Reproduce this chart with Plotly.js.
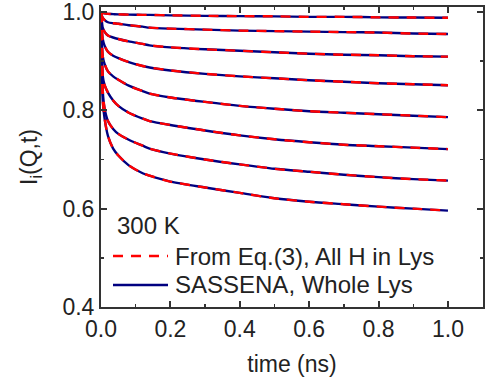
<!DOCTYPE html>
<html>
<head>
<meta charset="utf-8">
<script src="https://cdn.plot.ly/plotly-3.0.1.min.js"></script>
<style>html,body{margin:0;padding:0;background:#fff;}#chart{width:486px;height:385px;}</style>
</head>
<body>
<div id="chart"></div>
<script>
const time = [0, 0.002, 0.005, 0.01, 0.02, 0.035, 0.05, 0.08, 0.12, 0.14, 0.2, 0.3, 0.4, 0.5, 0.6, 0.7, 0.8, 0.9, 1.0];
const curve1 = [1, 0.999, 0.998, 0.997, 0.996, 0.9955, 0.995, 0.9945, 0.994, 0.994, 0.993, 0.992, 0.9915, 0.991, 0.990, 0.990, 0.989, 0.9885, 0.988];
const curve2 = [1, 0.993, 0.988, 0.984, 0.979, 0.977, 0.976, 0.973, 0.970, 0.968, 0.966, 0.964, 0.962, 0.961, 0.960, 0.959, 0.958, 0.956, 0.955];
const curve3 = [1, 0.985, 0.968, 0.960, 0.952, 0.948, 0.945, 0.940, 0.935, 0.932, 0.928, 0.924, 0.921, 0.918, 0.915, 0.913, 0.912, 0.910, 0.909];
const curve4 = [1, 0.970, 0.945, 0.932, 0.919, 0.911, 0.906, 0.898, 0.890, 0.887, 0.881, 0.874, 0.869, 0.865, 0.861, 0.858, 0.855, 0.853, 0.851];
const curve5 = [1, 0.950, 0.910, 0.895, 0.879, 0.869, 0.862, 0.850, 0.839, 0.834, 0.826, 0.817, 0.809, 0.803, 0.798, 0.795, 0.792, 0.789, 0.786];
const curve6 = [1, 0.940, 0.870, 0.852, 0.836, 0.820, 0.809, 0.795, 0.783, 0.778, 0.770, 0.759, 0.749, 0.741, 0.735, 0.730, 0.727, 0.724, 0.721];
const curve7 = [1, 0.920, 0.840, 0.805, 0.778, 0.762, 0.752, 0.740, 0.728, 0.722, 0.712, 0.700, 0.690, 0.681, 0.675, 0.669, 0.664, 0.660, 0.657];
const curve8 = [1, 0.900, 0.820, 0.785, 0.748, 0.722, 0.708, 0.688, 0.672, 0.667, 0.655, 0.643, 0.632, 0.621, 0.614, 0.609, 0.604, 0.600, 0.596];
const curves = [curve1, curve2, curve3, curve4, curve5, curve6, curve7, curve8];
const legendNames = ["From Eq.(3), All H in Lys", "SASSENA, Whole Lys"];
const tempLabel = "300 K";
const xTickVals = [0, 0.2, 0.4, 0.6, 0.8, 1.0];
const xTickText = ['0.0', '0.2', '0.4', '0.6', '0.8', '1.0'];
const yTickVals = [0.4, 0.6, 0.8, 1.0];
const yTickText = ['0.4', '0.6', '0.8', '1.0'];

const NAVY = '#000080', RED = '#ff0000', INK = '#222';
const FONT = 'Liberation Sans, Arial, sans-serif';

const traces = [];
curves.forEach((c) => {
  traces.push({x: time, y: c, mode: 'lines', type: 'scatter',
    line: {color: NAVY, width: 2.4, shape: 'spline', smoothing: 0.7},
    showlegend: false, hoverinfo: 'skip'});
});
curves.forEach((c) => {
  traces.push({x: time, y: c, mode: 'lines', type: 'scatter',
    line: {color: RED, width: 2.4, dash: '10px,8px', shape: 'spline', smoothing: 0.7},
    showlegend: false, hoverinfo: 'skip'});
});

const axisCommon = {
  showline: true, linecolor: '#333', linewidth: 2, mirror: 'ticks',
  ticks: 'inside', ticklen: 6, tickwidth: 2, tickcolor: '#333',
  showgrid: false, zeroline: false, ticklabeloverflow: 'allow',
  tickfont: {family: FONT, size: 23, color: INK}
};

// plot area in px: left 101, right 483, top 7, bottom 307
const px2x = (p) => (p - 101) / 382;
const px2y = (p) => (307 - p) / 300;

const layout = {
  width: 486, height: 385,
  margin: {l: 101, r: 3, t: 7, b: 78},
  paper_bgcolor: '#fff', plot_bgcolor: '#fff',
  font: {family: FONT, color: INK},
  showlegend: false,
  xaxis: Object.assign({}, axisCommon, {
    range: [0, 1.101], tickvals: xTickVals, ticktext: xTickText,
    minor: {tickvals: [0.1, 0.3, 0.5, 0.7, 0.9], ticks: 'inside', ticklen: 3, tickwidth: 1.5, tickcolor: '#333'},
    title: {text: 'time (ns)', font: {family: FONT, size: 23, color: INK}, standoff: 15}
  }),
  yaxis: Object.assign({}, axisCommon, {
    range: [0.4, 1.01], tickvals: yTickVals, ticktext: yTickText,
    minor: {tickvals: [0.5, 0.7, 0.9], ticks: 'inside', ticklen: 3, tickwidth: 1.5, tickcolor: '#333'},
    title: {text: 'I<sub>i</sub>(Q,t)', font: {family: FONT, size: 23, color: INK}, standoff: 18}
  }),
  shapes: [
    {type: 'line', xref: 'paper', yref: 'paper', x0: px2x(113), x1: px2x(168), y0: px2y(256), y1: px2y(256),
     line: {color: RED, width: 2.4, dash: '10px,8px'}},
    {type: 'line', xref: 'paper', yref: 'paper', x0: px2x(113), x1: px2x(168), y0: px2y(285), y1: px2y(285),
     line: {color: NAVY, width: 2.4}}
  ],
  annotations: [
    {text: tempLabel, xref: 'paper', yref: 'paper', x: px2x(115), y: px2y(225), xanchor: 'left', yanchor: 'middle',
     showarrow: false, font: {family: FONT, size: 24, color: INK}},
    {text: legendNames[0], xref: 'paper', yref: 'paper', x: px2x(173), y: px2y(256), xanchor: 'left', yanchor: 'middle',
     showarrow: false, font: {family: FONT, size: 24, color: INK}},
    {text: legendNames[1], xref: 'paper', yref: 'paper', x: px2x(173), y: px2y(284), xanchor: 'left', yanchor: 'middle',
     showarrow: false, font: {family: FONT, size: 24, color: INK}}
  ]
};

Plotly.newPlot('chart', traces, layout, {displayModeBar: false, staticPlot: true});
</script>
</body>
</html>
